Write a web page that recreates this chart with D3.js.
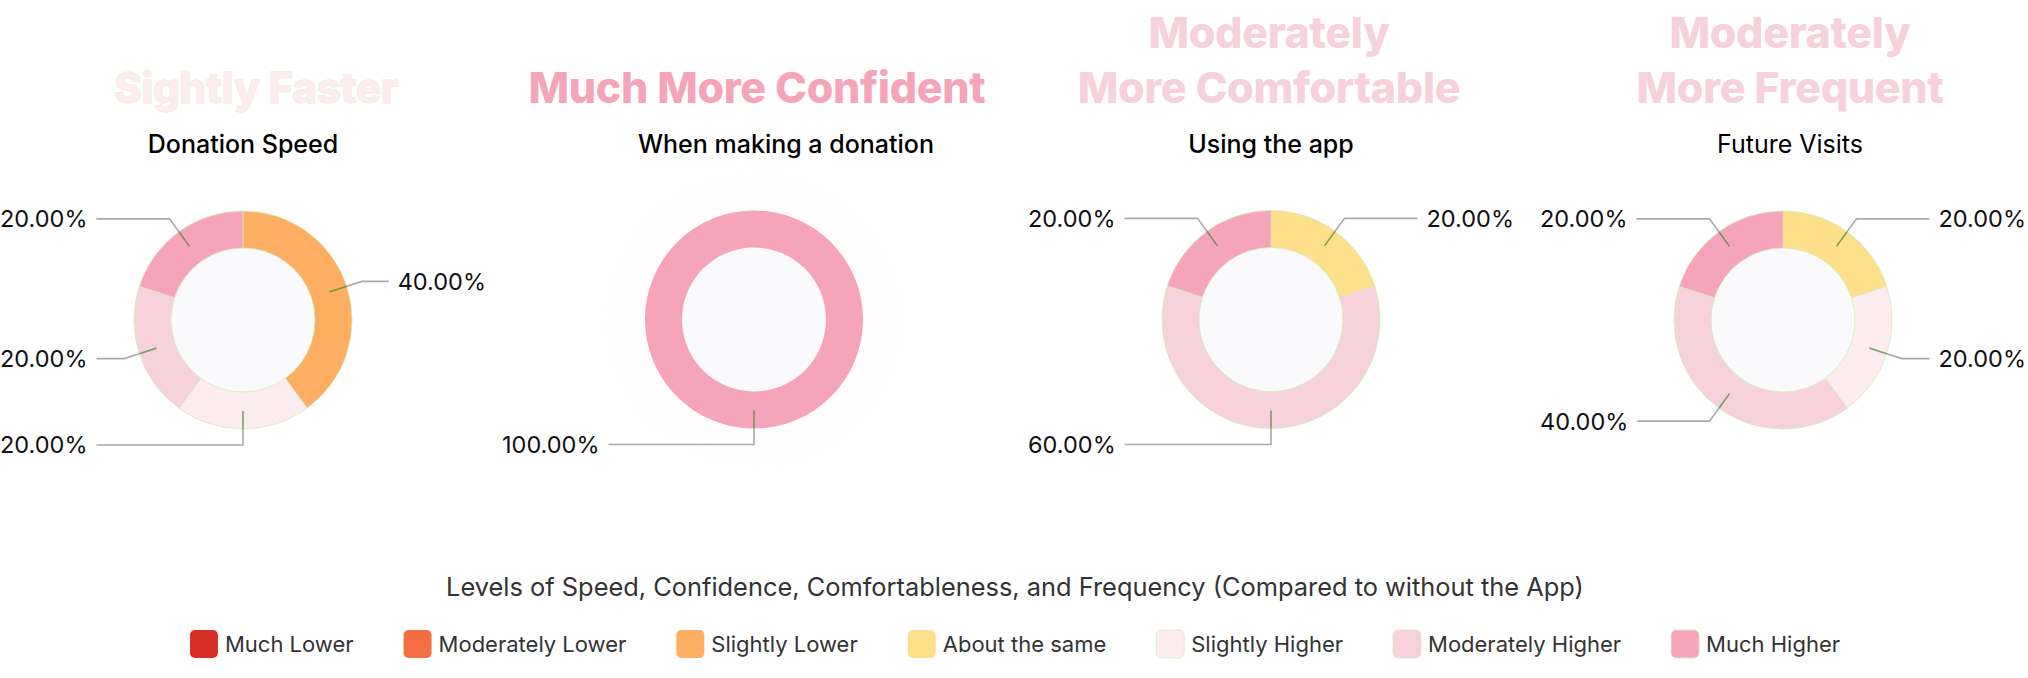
<!DOCTYPE html>
<html><head><meta charset="utf-8">
<script src="https://cdn.jsdelivr.net/npm/d3@7"></script>
<style>html,body{margin:0;padding:0;background:#fff;} svg{display:block}</style>
</head><body>
<svg id="chart" width="2028" height="678"></svg>
<script>
// ---- data ----
const categories = ["Much Lower","Moderately Lower","Slightly Lower","About the same","Slightly Higher","Moderately Higher","Much Higher"];
const colors = ["#d73027","#f46d43","#fdae61","#fee08b","#fcecef","#f7d1dc","#f6a4b9"];
const chartSubtitles = ["Donation Speed","When making a donation","Using the app","Future Visits"];
const chartHeadlines = [["Sightly Faster"],["Much More Confident"],["Moderately","More Comfortable"],["Moderately","More Frequent"]];
const headlineColorIndex = [4,6,5,5];
const speedValues = [0,0,40,0,20,20,20];
const confidenceValues = [0,0,0,0,0,0,100];
const comfortValues = [0,0,0,20,0,60,20];
const frequencyValues = [0,0,0,20,20,40,20];
const legendTitle = "Levels of Speed, Confidence, Comfortableness, and Frequency (Compared to without the App)";

// ---- layout ----
const seriesList = [speedValues, confidenceValues, comfortValues, frequencyValues];
const cxs = [243, 754, 1271, 1783];
const cys = [320, 319.5, 319.5, 320];
const titleX = [256, 757, 1269, 1790];
const subX = [243, 786, 1271, 1790];
const subWeight = [500, 500, 500, 400];
const edgeDists = [243, 252, 243, 243];
const rInner = 72, rOuter = 109, rMid = 91, rElbow = 125;

const svg = d3.select("#chart");
const color = d3.scaleOrdinal().domain(categories).range(colors);
const pie = d3.pie().sort(null).value(d => d.value);
const arc = d3.arc().innerRadius(rInner).outerRadius(rOuter);
const fmt = d3.format(".2f");

const defs = svg.append("defs");
defs.append("filter").attr("id","halo").attr("x","-50%").attr("y","-50%").attr("width","200%").attr("height","200%")
  .append("feGaussianBlur").attr("stdDeviation", 14);

seriesList.forEach((vals, i) => {
  const g = svg.append("g");
  const cx = cxs[i], cy = cys[i];
  // headline
  const lines = chartHeadlines[i];
  const baselines = lines.length === 1 ? [103] : [48, 103];
  lines.forEach((t, j) => {
    const tx = g.append("text").attr("x", titleX[i]).attr("y", baselines[j])
      .attr("text-anchor","middle")
      .style("font-family","Inter, 'Noto Sans', sans-serif")
      .style("font-weight", 800).style("font-size", i === 0 ? "42px" : "43px")
      .style("letter-spacing","-0.3px")
      .attr("fill", colors[headlineColorIndex[i]])
      .text(t);
    if (i === 0) tx.attr("stroke","#e3eccb").attr("stroke-width",0.8).attr("paint-order","stroke");
  });
  // subtitle
  g.append("text").attr("x", subX[i]).attr("y", 153).attr("text-anchor","middle")
    .style("font-family","Inter, sans-serif").style("font-weight", subWeight[i]).style("font-size","25px")
    .attr("fill","#000").text(chartSubtitles[i]);

  const data = categories.map((c, k) => ({cat: c, value: vals[k]})).filter(d => d.value > 0);
  const total = d3.sum(data, d => d.value);
  const arcs = pie(data);
  const dg = g.append("g").attr("transform", `translate(${cx},${cy})`);

  if (data.length === 1) {
    dg.append("circle").attr("r", 130).attr("fill", "#fde9ef").attr("opacity", 0.12).attr("filter","url(#halo)");
  }
  dg.append("circle").attr("r", rInner).attr("fill", "#fafafc");
  dg.selectAll("path.slice").data(arcs).join("path").attr("class","slice")
    .attr("d", arc).attr("fill", d => color(d.data.cat))
    .attr("stroke", "#d3eabd").attr("stroke-width", data.length === 1 ? 0 : 0.8);

  arcs.forEach(a => {
    const mid = (a.startAngle + a.endAngle) / 2;
    const s = Math.sin(mid), c = Math.cos(mid);
    const right = s > 1e-6;
    const p0 = [s * rMid, -c * rMid];
    const pO = [s * rOuter, -c * rOuter];
    const p1 = [s * rElbow, -c * rElbow];
    const label = fmt(a.data.value / total * 100) + "%";
    const edge = right ? edgeDists[i] : -edgeDists[i];
    const t = dg.append("text").attr("x", edge).attr("y", p1[1]).attr("dy","0.36em")
      .attr("text-anchor", right ? "end" : "start")
      .style("font-family","Inter, sans-serif").style("font-size","23.5px")
      .attr("fill","#111").text(label);
    const w = t.node().getComputedTextLength();
    const x2 = right ? edge - w - 9 : edge + w + 9;
    dg.append("path").attr("d", d3.line()([pO, p1, [x2, p1[1]]]))
      .attr("fill","none").attr("stroke","#aaa").attr("stroke-width",1.6);
    dg.append("path").attr("d", d3.line()([p0, pO]))
      .attr("fill","none").attr("stroke","#4f8a3a").attr("stroke-opacity",0.75).attr("stroke-width",1.6);
  });
});

// ---- legend ----
svg.append("text").attr("x", 1015).attr("y", 596).attr("text-anchor","middle")
  .style("font-family","Inter, sans-serif").style("font-size","25.4px").attr("fill","#333")
  .text(legendTitle);

const lg = svg.append("g");
const items = categories.map(c => {
  const ig = lg.append("g");
  ig.append("rect").attr("width",28).attr("height",28).attr("rx",5).attr("y",630)
    .attr("fill", color(c))
    .attr("stroke", ["Slightly Higher","Moderately Higher","Much Higher"].includes(c) ? "#dbecc6" : "none")
    .attr("stroke-width", 0.8);
  const t = ig.append("text").attr("x", 35).attr("y", 652)
    .style("font-family","Inter, sans-serif").style("font-size","22px").attr("fill","#333").text(c);
  return {g: ig, w: 35 + t.node().getComputedTextLength()};
});
const gap = 50;
const totalW = d3.sum(items, d => d.w) + gap * (items.length - 1);
let x = 1015 - totalW / 2;
items.forEach(it => { it.g.attr("transform", `translate(${x},0)`); x += it.w + gap; });
</script>
</body></html>
